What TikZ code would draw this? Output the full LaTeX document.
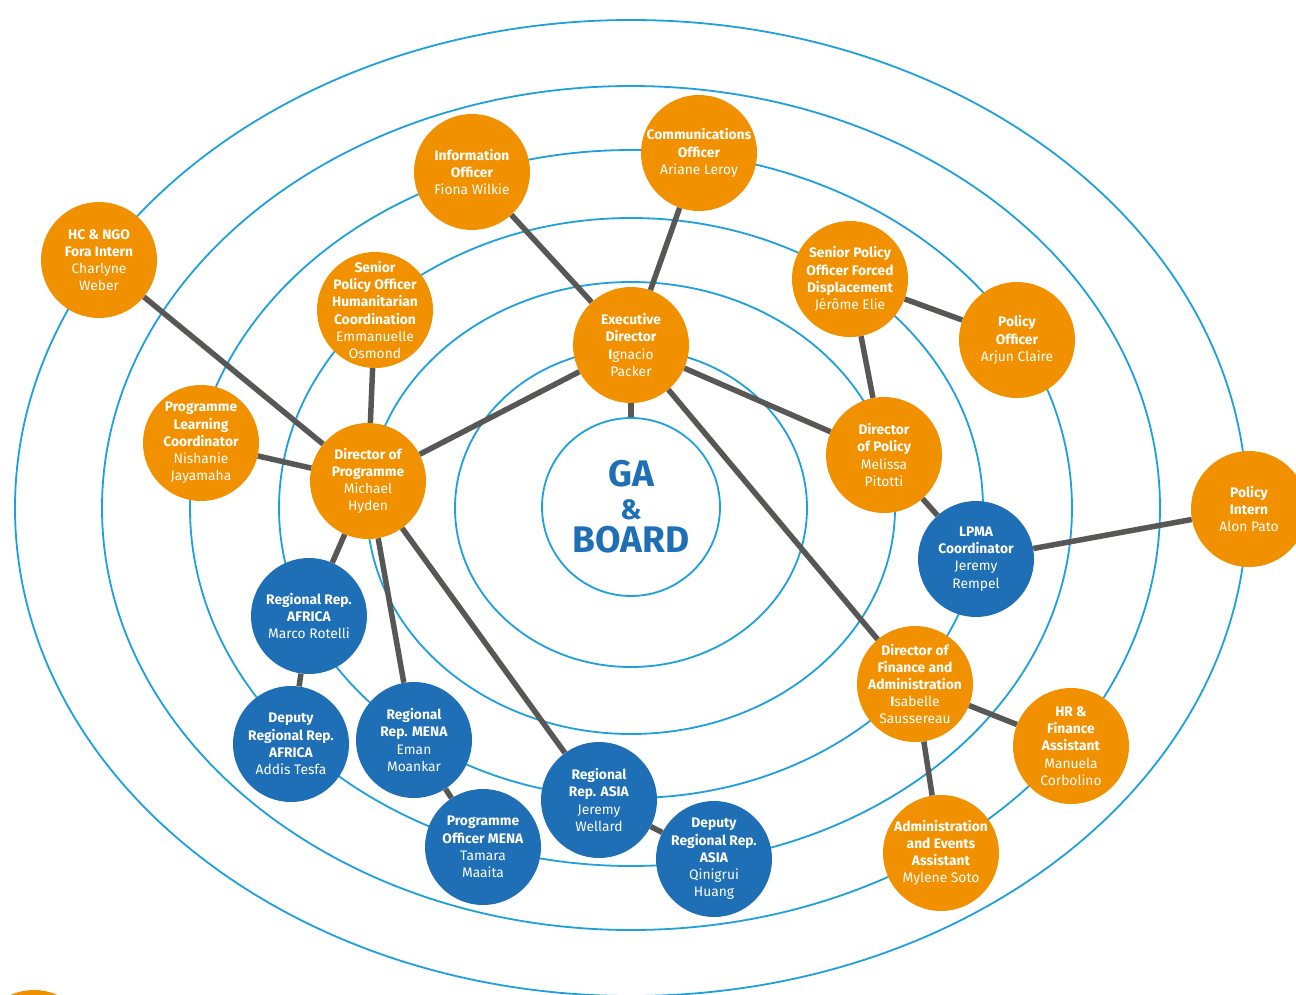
\documentclass[tikz,border=0pt]{standalone}
\usepackage{fontspec}
\setmainfont{Fira Sans}
\usepackage{tikz}
\definecolor{ngoOrange}{HTML}{F29100}
\definecolor{ngoBlue}{HTML}{1E6FB6}
\definecolor{ringBlue}{HTML}{1DA0DC}
\definecolor{linkGrey}{HTML}{575756}
\newcommand{\staffbox}[2]{\makebox[0pt]{\parbox{130pt}{\centering\textbf{#1}\\#2}}}

\begin{document}
\begin{tikzpicture}[x=1pt,y=-1pt,
  ring/.style={draw=ringBlue,line width=1.8pt},
  member/.style={circle,minimum size=116pt,inner sep=0pt,text=white,
    font=\fontsize{13.8}{17.2}\selectfont},
  orgN/.style={member,fill=ngoOrange},
  bluN/.style={member,fill=ngoBlue},
  link/.style={draw=linkGrey,line width=5.5pt}]
\useasboundingbox (0,0) rectangle (1296,994);
\clip (0,0) rectangle (1296,994);
% rings
\foreach \rx/\ry in {176/159,264/226,352/290,441/358,529/422,616/488}
  \draw[ring] (631,508) ellipse ({\rx} and {\ry});
\node at (631,507) [circle,draw=ringBlue,line width=1.8pt,minimum size=178pt,inner sep=0pt,
  text=ngoBlue,align=center,font=\bfseries\fontsize{37}{33}\selectfont] (board) {GA\\{\fontsize{28}{33}\selectfont\&}\\BOARD};
% management
\node at (631,345) [orgN] (execD) {\staffbox{Executive\\Director}{\textbf{I}gnacio\\Packer}};
\node at (699,153) [orgN] (commO) {\staffbox{Communications\\Officer}{Ariane Leroy}};
\node at (472,172) [orgN] (infoO) {\staffbox{Information\\Officer}{Fiona Wilkie}};
\node at (368,481) [orgN] (dirProg) {\staffbox{Director of\\Programme}{Michael\\Hyden}};
\node at (884,455) [orgN] (dirPol) {\staffbox{Director\\of Policy}{Melissa\\Pitotti}};
\node at (915,684) [orgN] (dirFin) {\staffbox{Director of\\Finance and\\Administration}{\textbf{I}sabelle\\Saussereau}};
% programme
\node at (99,260) [orgN] (hcFora) {\staffbox{HC \& NGO\\Fora Intern}{Charlyne\\Weber}};
\node at (375,310) [orgN] (spoHum) {\staffbox{Senior\\Policy Officer\\Humanitarian\\Coordination}{Emmanuelle\\Osmond}};
\node at (201,443) [orgN] (progLC) {\staffbox{Programme\\Learning\\Coordinator}{Nishanie\\Jayamaha}};
\node at (309,616) [bluN] (repAfr) {\staffbox{Regional Rep.\\AFRICA}{Marco Rotelli}};
\node at (291,744) [bluN] (depAfr) {\staffbox{Deputy\\Regional Rep.\\AFRICA}{Addis Tesfa}};
\node at (414,740) [bluN] (repMena) {\staffbox{Regional\\Rep. MENA}{Eman\\Moankar}};
\node at (483,847) [bluN] (poMena) {\staffbox{Programme\\Officer MENA}{Tamara\\Maaita}};
\node at (599,800) [bluN] (repAsia) {\staffbox{Regional\\Rep. ASIA}{Jeremy\\Wellard}};
\node at (714,859) [bluN] (depAsia) {\staffbox{Deputy\\Regional Rep.\\ASIA}{Qinigrui\\Huang}};
% policy
\node at (850,279) [orgN] (spoFD) {\staffbox{Senior Policy\\Officer Forced\\Displacement}{Jérôme Elie}};
\node at (1017,340) [orgN] (polO) {\staffbox{Policy\\Officer}{Arjun Claire}};
\node at (976,559) [bluN] (lpma) {\staffbox{LPMA\\Coordinator}{Jeremy\\Rempel}};
\node at (1249,509) [orgN] (polInt) {\staffbox{Policy\\Intern}{Alon Pato}};
% finance
\node at (1071,746) [orgN] (hrFin) {\staffbox{HR \&\\Finance\\Assistant}{Manuela\\Corbolino}};
\node at (941,853) [orgN] (admEv) {\staffbox{Administration\\and Events\\Assistant}{Mylene Soto}};
\node at (34,1048) [orgN] (extra) {};
% connectors
\draw[link] (execD) -- (board);
\draw[link] (execD) -- (commO);
\draw[link] (execD) -- (infoO);
\draw[link] (execD) -- (dirProg);
\draw[link] (execD) -- (dirPol);
\draw[link] (execD) -- (dirFin);
\draw[link] (dirProg) -- (hcFora);
\draw[link] (dirProg) -- (spoHum);
\draw[link] (dirProg) -- (progLC);
\draw[link] (dirProg) -- (repAfr);
\draw[link] (dirProg) -- (repMena);
\draw[link] (dirProg) -- (repAsia);
\draw[link] (repAfr) -- (depAfr);
\draw[link] (repMena) -- (poMena);
\draw[link] (repAsia) -- (depAsia);
\draw[link] (dirPol) -- (spoFD);
\draw[link] (spoFD) -- (polO);
\draw[link] (dirPol) -- (lpma);
\draw[link] (lpma) -- (polInt);
\draw[link] (dirFin) -- (hrFin);
\draw[link] (dirFin) -- (admEv);
\end{tikzpicture}
\end{document}
